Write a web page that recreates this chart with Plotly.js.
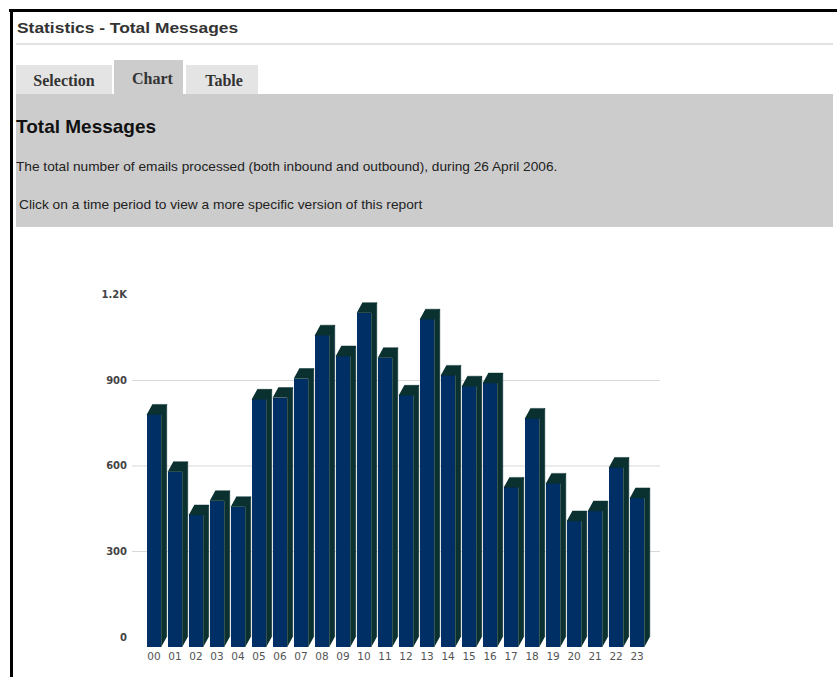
<!DOCTYPE html>
<html>
<head>
<meta charset="utf-8">
<script src="https://cdn.plot.ly/plotly-3.0.1.min.js"></script>
<style>
  html, body { margin: 0; padding: 0; background: #ffffff; width: 837px; height: 677px; overflow: hidden; }
  .abs { position: absolute; white-space: nowrap; transform-origin: 0 50%; }
  #topbar { left: 9px; top: 9px; width: 828px; height: 3px; background: #000; }
  #leftbar { left: 10px; top: 9px; width: 3px; height: 668px; background: #000; }
  #hdr { left: 17px; top: 20px; font: bold 15px "Liberation Sans", Arial, sans-serif; color: #333; line-height: 16px; transform: scaleX(1.16); }
  #sep { left: 16px; top: 43px; width: 817px; height: 2px; background: #e2e2e2; }
  .tab { position: absolute; background: #e4e4e4; font: bold 16px "Liberation Serif", "Times New Roman", serif; color: #333; text-align: center; }
  #panel { left: 16px; top: 94px; width: 817px; height: 133px; background: #cccccc; }
  #ptitle { left: 16px; top: 117px; font: bold 19px "Liberation Sans", Arial, sans-serif; color: #111; line-height: 19px; }
  #l1 { left: 16px; top: 159px; font: 13px "Liberation Sans", Arial, sans-serif; color: #222; line-height: 15px; transform: scaleX(1.052); }
  #l2 { left: 19px; top: 197px; font: 13px "Liberation Sans", Arial, sans-serif; color: #222; line-height: 15px; transform: scaleX(1.057); }
  #chart { position: absolute; left: 0; top: 230px; width: 837px; height: 447px; }
</style>
</head>
<body>
<div id="topbar" class="abs"></div>
<div id="leftbar" class="abs"></div>
<div id="hdr" class="abs">Statistics - Total Messages</div>
<div id="sep" class="abs"></div>
<div id="panel" class="abs"></div>
<div class="tab" style="left:16px; top:65px; width:96px; height:29px; line-height:32px;">Selection</div>
<div class="tab" style="left:114px; top:60px; width:69px; height:34px; line-height:38px; background:#cccccc; text-indent:8px;">Chart</div>
<div class="tab" style="left:186px; top:65px; width:72px; height:29px; line-height:32px; text-indent:4px;">Table</div>
<div id="ptitle" class="abs">Total Messages</div>
<div id="l1" class="abs">The total number of emails processed (both inbound and outbound), during 26 April 2006.</div>
<div id="l2" class="abs">Click on a time period to view a more specific version of this report</div>
<div id="chart"></div>
<script>
// ---- data ----
var hours = ['00','01','02','03','04','05','06','07','08','09','10','11',
             '12','13','14','15','16','17','18','19','20','21','22','23'];
var messages = [816, 615, 463, 513, 492, 869, 875, 942, 1094, 1021, 1173, 1015,
                883, 1150, 953, 915, 926, 560, 802, 574, 442, 477, 630, 523];
var yTickVals = [0, 300, 600, 900, 1200];
var yTickText = ['0', '300', '600', '900', '1.2K'];

// ---- 3D look parameters (in axis units) ----
var halfW = 0.345;   // half width of front face
var dX = 0.26;       // depth offset in x
var dY = 35;         // depth offset in y (value units)
var frontColor = '#002f66';
var darkColor = '#0a3030';

var idx = hours.map(function (h, i) { return i; });

// side + top faces as polygons built from the data
var px = [], py = [];
messages.forEach(function (v, i) {
  // side face
  px.push(i + halfW, i + halfW, i + halfW + dX, i + halfW + dX, null);
  py.push(-dY, v - dY, v, 0, null);
  // top face
  px.push(i - halfW, i + halfW, i + halfW + dX, i - halfW + dX, null);
  py.push(v - dY, v - dY, v, v, null);
});

var faces = {
  type: 'scatter', x: px, y: py, mode: 'lines',
  fill: 'toself', fillcolor: darkColor,
  line: { width: 0.5, color: darkColor },
  hoverinfo: 'skip', showlegend: false
};
var front = {
  type: 'bar', x: idx, y: messages, base: -dY, width: 2 * halfW,
  marker: { color: frontColor, line: { width: 0 } },
  hoverinfo: 'skip', showlegend: false
};

var gridShapes = yTickVals.filter(function (v) { return v > 0 && v < 1200; }).map(function (v) {
  return { type: 'line', xref: 'paper', x0: 0, x1: 1, yref: 'y', y0: v, y1: v,
           line: { color: '#d9d9d9', width: 1 }, layer: 'below' };
});

var layout = {
  width: 837, height: 447,
  margin: { l: 132, r: 177, t: 60, b: 29, pad: 0 },
  paper_bgcolor: 'rgba(0,0,0,0)', plot_bgcolor: 'rgba(0,0,0,0)',
  showlegend: false,
  bargap: 0,
  xaxis: {
    range: [-1.048, 24.09], tickmode: 'array', tickvals: idx, ticktext: hours,
    showgrid: false, zeroline: false, showline: false, ticks: '',
    tickfont: { family: 'DejaVu Sans, Verdana, sans-serif', size: 10.5, color: '#555' }
  },
  yaxis: {
    range: [-38.6, 1217.5], tickmode: 'array', tickvals: yTickVals, ticktext: yTickText,
    showgrid: false, zeroline: false, showline: false, ticks: '',
    ticklabelstandoff: 4,
    tickfont: { family: 'DejaVu Sans, Verdana, sans-serif', size: 10, color: '#444', weight: 'bold' }
  },
  shapes: gridShapes
};

Plotly.newPlot('chart', [front, faces], layout, { staticPlot: true, displayModeBar: false });
</script>
</body>
</html>
